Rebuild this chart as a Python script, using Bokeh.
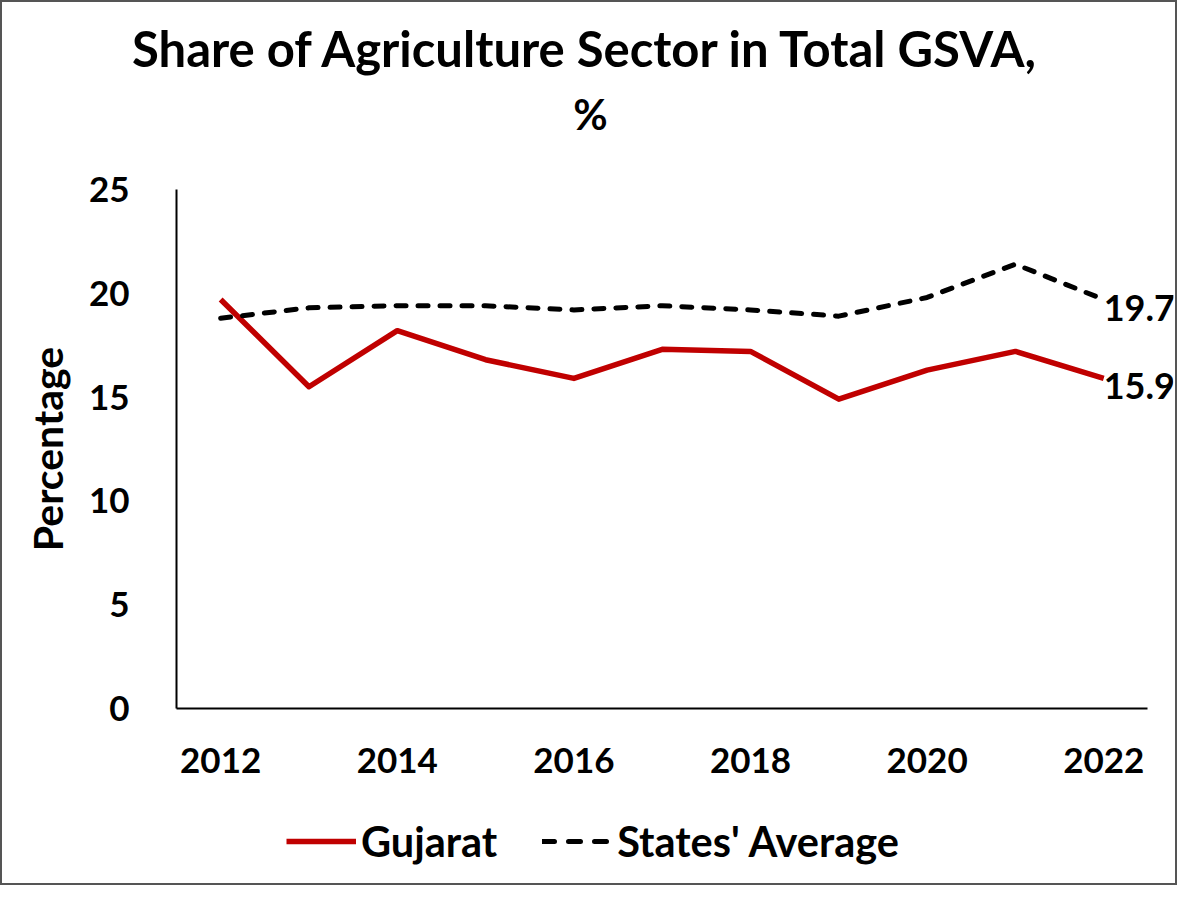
from bokeh.plotting import figure
from bokeh.layouts import column
from bokeh.models import Label, Legend, LegendItem, FixedTicker, Range1d
from bokeh.embed import file_html
from bokeh.resources import INLINE

years = [2012, 2013, 2014, 2015, 2016, 2017, 2018, 2019, 2020, 2021, 2022]
gujarat = [19.7, 15.5, 18.2, 16.8, 15.9, 17.3, 17.2, 14.9, 16.3, 17.2, 15.9]
states_avg = [18.8, 19.3, 19.4, 19.4, 19.2, 19.4, 19.2, 18.9, 19.8, 21.4, 19.7]
x_ticks = [2012, 2014, 2016, 2018, 2020, 2022]
y_ticks = [0, 5, 10, 15, 20, 25]
title_line1 = "Share of Agriculture Sector in Total GSVA,"
title_line2 = "%"
series_names = ["Gujarat", "States' Average"]

FONT = "Lato"
RED = "#C00000"
W = 1173
H_HEAD, H_MAIN, H_LEG = 150, 646, 85
DASH = "10 12"
LEG_DASH = "12 14"


def bare(fig):
    fig.outline_line_color = None
    fig.grid.visible = False
    fig.frame_align = False
    return fig


# ---- header with the two title lines
head = bare(figure(width=W, height=H_HEAD, output_backend="svg", toolbar_location=None,
                   x_range=Range1d(0, W), y_range=Range1d(0, H_HEAD), min_border=0,
                   x_axis_location=None, y_axis_location=None))
head.add_layout(Label(x=584, y=105, text=title_line1, text_font=FONT,
                      text_font_style="bold", text_font_size="49px", text_color="black",
                      text_align="center", text_baseline="alphabetic"))
head.add_layout(Label(x=588, y=39, text=title_line2, text_font=FONT,
                      text_font_style="bold", text_font_size="42px", text_color="black",
                      text_align="center", text_baseline="alphabetic"))

# ---- main chart
p = bare(figure(width=W, height=H_MAIN, output_backend="svg", toolbar_location=None,
                x_range=Range1d(2011.5, 2022.79), y_range=Range1d(0, 25),
                min_border_left=174, min_border_right=2, min_border_top=37,
                min_border_bottom=90))

for ax in (p.xaxis, p.yaxis):
    ax.major_tick_line_color = None
    ax.minor_tick_line_color = None
    ax.axis_line_color = "black"
    ax.axis_line_width = 2
    ax.major_label_text_font = FONT
    ax.major_label_text_font_style = "bold"
    ax.major_label_text_font_size = "35px"
    ax.major_label_text_color = "black"

p.xaxis.ticker = FixedTicker(ticks=x_ticks)
p.xaxis.bounds = (2011.5, 2022.5)
p.yaxis.ticker = FixedTicker(ticks=y_ticks)
p.xaxis.major_label_standoff = 33
p.yaxis.major_label_standoff = 41
p.yaxis.axis_label = "Percentage"
p.yaxis.axis_label_text_font = FONT
p.yaxis.axis_label_text_font_style = "bold"
p.yaxis.axis_label_text_font_size = "41px"
p.yaxis.axis_label_text_color = "black"
p.yaxis.axis_label_standoff = 14

p.line(years, gujarat, line_color=RED, line_width=5.5, line_join="round")
p.line(years, states_avg, line_color="black", line_width=5, line_dash=DASH,
       line_cap="round", line_join="round")

for vals in (states_avg, gujarat):
    p.add_layout(Label(x=years[-1], y=vals[-1], text=f"{vals[-1]:.1f}",
                       text_font=FONT, text_font_style="bold", text_font_size="36px",
                       text_color="black", text_baseline="middle", text_align="left",
                       y_offset=-8))

# ---- legend strip
lf = bare(figure(width=W, height=H_LEG, output_backend="svg", toolbar_location=None,
                 x_range=Range1d(0, 1), y_range=Range1d(0, 1), min_border=0,
                 x_axis_location=None, y_axis_location=None))
lr1 = lf.line(years, gujarat, line_color=RED, line_width=5.5)
lr2 = lf.line(years, states_avg, line_color="black", line_width=5, line_dash=LEG_DASH,
              line_cap="round")
legend = Legend(items=[LegendItem(label=series_names[0], renderers=[lr1]),
                       LegendItem(label=series_names[1], renderers=[lr2])],
                orientation="horizontal", location=(284, 17),
                label_text_font=FONT, label_text_font_style="bold",
                label_text_font_size="41.5px", label_text_color="black",
                glyph_width=70, glyph_height=30, label_standoff=5, spacing=45,
                border_line_color=None, background_fill_alpha=0, margin=0, padding=5)
lf.add_layout(legend)

layout = column(head, p, lf, spacing=0)
layout.styles = {"border": "2px solid #555"}

open("out.html", "w").write(file_html(layout, INLINE))
